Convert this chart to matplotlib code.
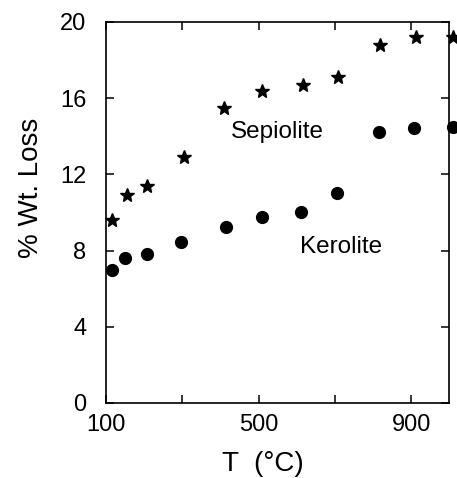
import matplotlib
matplotlib.use("Agg")
import matplotlib.pyplot as plt

# Sepiolite (star markers)
sep_t = [115, 156, 208, 304, 409, 508, 617, 708, 818, 914, 1010]
sep_loss = [9.6, 10.9, 11.4, 12.9, 15.5, 16.4, 16.7, 17.1, 18.8, 19.2, 19.2]

# Kerolite (filled circles)
ker_t = [115, 151, 208, 296, 414, 509, 610, 705, 815, 908, 1009]
ker_loss = [7.0, 7.6, 7.8, 8.45, 9.25, 9.75, 10.0, 11.0, 14.2, 14.45, 14.5]

x_ticks = [100, 300, 500, 700, 900]
x_tick_labels = ["100", "", "500", "", "900"]
y_ticks = [0, 4, 8, 12, 16, 20]

plt.rcParams["font.family"] = ["Liberation Sans", "DejaVu Sans"]

fig = plt.figure(figsize=(4.57, 4.78), dpi=100)
ax = fig.add_axes([0.232, 0.157, 0.751, 0.797])

ax.plot(sep_t, sep_loss, linestyle="none", marker="*", markersize=10.5,
        color="black", clip_on=False)
ax.plot(ker_t, ker_loss, linestyle="none", marker="o", markersize=8.5,
        color="black", clip_on=False)

ax.text(550, 14.2, "Sepiolite", fontsize=17.5, ha="center", va="center")
ax.text(716, 8.2, "Kerolite", fontsize=17.5, ha="center", va="center")

ax.set_xlim(100, 1000)
ax.set_ylim(0, 20)
ax.set_xticks(x_ticks)
ax.set_xticklabels(x_tick_labels)
ax.set_yticks(y_ticks)
ax.tick_params(direction="in", length=6, width=1.1, top=True, right=True,
               labelsize=17)
ax.tick_params(axis="x", pad=8)
ax.tick_params(axis="y", pad=14)
for s in ax.spines.values():
    s.set_linewidth(1.2)

ax.set_xlabel("T  (°C)", fontsize=20)
ax.xaxis.set_label_coords(0.458, -0.125)
ax.set_ylabel("% Wt. Loss", fontsize=20)
ax.yaxis.set_label_coords(-0.18, 0.565)

fig.savefig("out.png", dpi=100)
